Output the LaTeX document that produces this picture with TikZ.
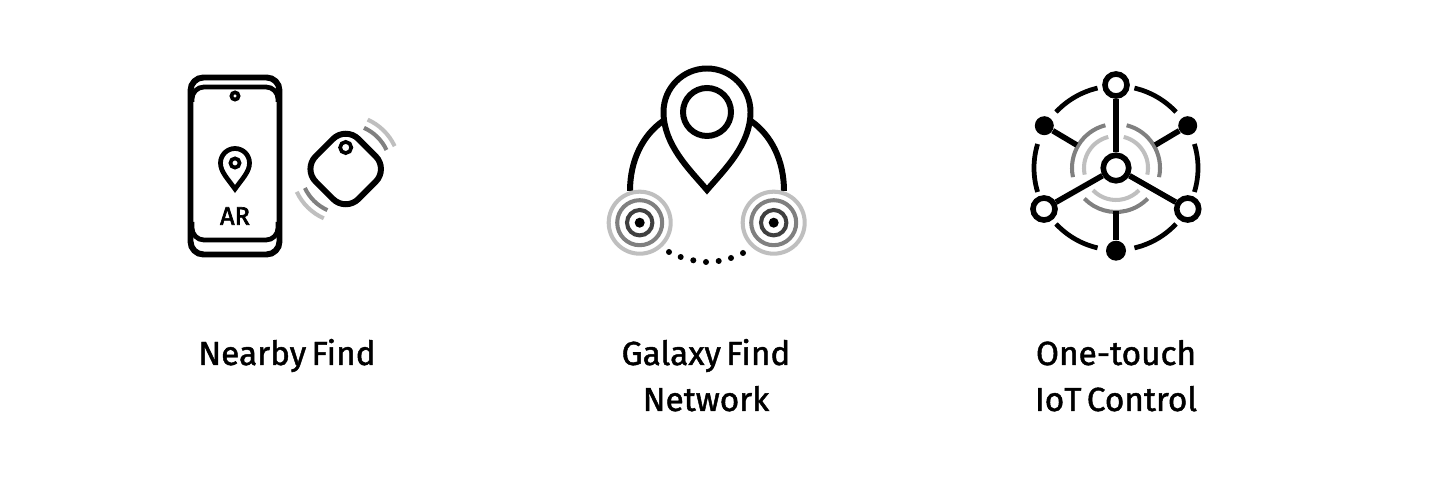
\documentclass[tikz,border=0pt]{standalone}
\usepackage{fontspec}
\usetikzlibrary{calc}
\setmainfont{Fira Sans}[FakeBold=1.4,WordSpace=0.6]
\newfontfamily\badgefont{Fira Sans}[FakeBold=2.6]
\begin{document}
\begin{tikzpicture}
        [x=0.02cm,y=0.02cm,%%%%%%%%%%%%%%%%%%%%%%%%%%%%%%
        heavy/.style={draw=black,line width=3.4pt},
        medium/.style={draw=black,line width=2.7pt},
        fine/.style={draw=black,line width=2.1pt},
        wave/.style={line width=2.3pt,line cap=butt},
        solid dot/.style={circle,fill=black,inner sep=0pt,minimum size=#1},
        hollow/.style={circle,draw=black,fill=white,line width=3.2pt,inner sep=0pt,minimum size=0.44cm},
        spoke/.style={draw=black,line width=3.2pt},
        caption/.style={inner sep=0pt,font=\fontsize{19pt}{26pt}\selectfont,align=center,anchor=base},
        ]%%%%%%%%%%%%%%%%%%%%%%%%%%%%%%
        \useasboundingbox[fill=white] (0,0) rectangle (1440,500);

        % phone
        \draw[heavy,rounded corners=0.26cm] (190.5,245.5) rectangle (279.5,422.5);
        \draw[medium,rounded corners=0.24cm] (192,398) -- (192,413) -- (278,413) -- (278,398);
        \draw[medium,rounded corners=0.24cm] (192,278) -- (192,260) -- (278,260) -- (278,278);
        \draw[fine] (235,404) circle[radius=3.6];
        \draw[medium] (235,311) .. controls (228,321) and (220.5,328) .. (220.5,337)
          arc[start angle=180,end angle=0,radius=14.5] .. controls (249.5,328) and (242,321) .. cycle;
        \draw[fine] (235,337) circle[radius=4.6];
        \node[inner sep=0pt,font=\badgefont\fontsize{14.4pt}{16pt}\selectfont] (ar) at (235,284) {AR};

        % tag
        \draw[heavy,rounded corners=0.36cm,rotate around={45:(345.7,331)}]
          (315.5,300.8) rectangle (375.9,361.2);
        \draw[fine] (345.7,352.5) circle[radius=5.6];
        \foreach \r/\c in {45/gray,54/lightgray}{
          \draw[wave,\c] ($(345.7,331)+(25:\r)$) arc[start angle=25,end angle=66,radius=\r];
          \draw[wave,\c] ($(345.7,331)+(205:\r)$) arc[start angle=205,end angle=246,radius=\r];
        }

        % map pin and trackers
        \draw[heavy] (707,310) .. controls (690,330) and (663.5,355) .. (663.5,388)
          arc[start angle=180,end angle=0,radius=43.5] .. controls (750.5,355) and (724,330) .. cycle;
        \draw[heavy] (707,388) circle[radius=24];
        \draw[heavy] (630,309) .. controls (630,340) and (643,365) .. (663,379);
        \draw[heavy] (784,309) .. controls (784,340) and (771,365) .. (751,379);
        \foreach \x in {639.7,773.7}{
          \draw[wave,lightgray] (\x,277.3) circle[radius=31];
          \draw[wave,gray] (\x,277.3) circle[radius=22.5];
          \draw[wave,darkgray] (\x,277.3) circle[radius=12.7];
          \fill (\x,277.3) circle[radius=5];
        }
        \foreach \x/\y in {669/248,680.7/243,693.3/239.7,706/238,718.7/239,731/242,743/247}
          \fill (\x,\y) circle[radius=3];

        % iot hub
        \foreach \a in {0,60,...,300}
          \draw[medium] ($(1116,332)+(\a-17:82)$) arc[start angle=\a-17,end angle=\a+17,radius=82];
        \foreach \r/\c in {44/gray,32/lightgray}{
          \draw[wave,\c] ($(1116,332)+(-12:\r)$) arc[start angle=-12,end angle=76,radius=\r];
          \draw[wave,\c] ($(1116,332)+(104:\r)$) arc[start angle=104,end angle=192,radius=\r];
          \draw[wave,\c] ($(1116,332)+(224:\r)$) arc[start angle=224,end angle=316,radius=\r];
        }
        \coordinate (spoke ul) at (1076.7,355);
        \coordinate (spoke ur) at (1155.3,355);
        \coordinate (spoke b) at (1116,288.5);
        \node[hollow,minimum size=0.51cm] (hub) at (1116,332) {};
        \node[hollow] (top) at (1116,415) {};
        \node[hollow] (lower left) at (1044,291) {};
        \node[hollow] (lower right) at (1187.7,291) {};
        \node[solid dot=0.4cm] (bottom) at (1116,249.3) {};
        \node[solid dot=0.38cm] (upper left) at (1044.3,374.3) {};
        \node[solid dot=0.38cm] (upper right) at (1187.7,374.3) {};
        \draw[spoke] (hub) -- (top);
        \draw[spoke] (hub) -- (lower left);
        \draw[spoke] (hub) -- (lower right);
        \draw[spoke] (upper left) -- (spoke ul);
        \draw[spoke] (upper right) -- (spoke ur);
        \draw[spoke] (bottom) -- (spoke b);

        % captions
        \node[caption] (nearby) at (287,135) {Nearby Find};
        \node[caption] (galaxy) at (706,135) {Galaxy Find};
        \node[caption] (network) at (706,89) {Network};
        \node[caption] (onetouch) at (1116,135) {One-touch};
        \node[caption] (iot) at (1116,89) {IoT Control};
      \end{tikzpicture}
\end{document}
